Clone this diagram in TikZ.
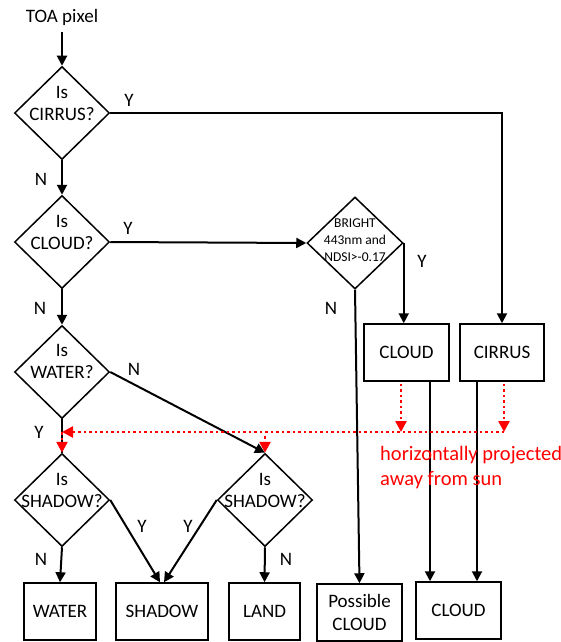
\documentclass[tikz,border=0pt]{standalone}
\usepackage{fontspec}
\setmainfont{Carlito}
\usetikzlibrary{shapes.geometric,arrows.meta}
\begin{document}
\begin{tikzpicture}[x=1pt,y=-1pt,
  dia/.style={diamond,draw,line width=1.5pt,minimum width=95pt,minimum height=93pt,inner sep=0pt,aspect=1},
  box/.style={draw,line width=1.5pt,minimum height=57pt,inner sep=0pt,align=center,font=\fontsize{19}{23}\selectfont},
  dtext/.style={align=center,font=\fontsize{19}{22}\selectfont,inner sep=0pt},
  lab/.style={font=\fontsize{19}{22}\selectfont,inner sep=0pt},
  tip/.style={-{Triangle[length=10pt,width=10pt]}},
  conn/.style={line width=2pt,tip},
  plain/.style={line width=2pt},
  proj/.style={red,line width=2.5pt,dash pattern=on 2.5pt off 3pt,-{Triangle[length=11pt,width=11pt]}},
]
\useasboundingbox (0,0) rectangle (561,642);

% title
\node[lab,anchor=base] (toa) at (62,23) {TOA pixel};

% diamonds
\node[dia] (c1) at (62,113) {};
\node[dtext] (t1) at ([yshift=10pt]c1.center) {Is\\CIRRUS?};
\node[dia] (c2) at (62,242) {};
\node[dtext] (t2) at ([yshift=10pt]c2.center) {Is\\CLOUD?};
\node[dia] (c3) at (62,372) {};
\node[dtext] (t3) at ([yshift=11pt]c3.center) {Is\\WATER?};
\node[dia] (s1) at (62,500) {};
\node[dtext] (t4) at ([yshift=10pt]s1.center) {Is\\SHADOW?};
\node[dia] (s2) at (265,500) {};
\node[dtext] (t5) at ([yshift=10pt]s2.center) {Is\\SHADOW?};
\node[dia,minimum width=96pt,minimum height=92pt] (br) at (355,243) {};
\node[dtext,font=\fontsize{13.5}{17}\selectfont] (t6) at ([yshift=3pt]br.center) {BRIGHT\\443nm and\\NDSI>-0.17};

% boxes
\node[box,minimum width=85pt] (cloudU) at (406.5,352.5) {CLOUD};
\node[box,minimum width=84pt] (cirrus) at (502,352.5) {CIRRUS};
\node[box,minimum width=72pt] (water) at (60,611.5) {WATER};
\node[box,minimum width=92pt] (shadow) at (162,611.5) {SHADOW};
\node[box,minimum width=71pt] (land) at (264.5,611.5) {LAND};
\node[box,minimum width=85pt] (poss) at (359.5,612.5) {Possible\\CLOUD};
\node[box,minimum width=85pt] (cloudF) at (458.5,610.5) {CLOUD};

% black connectors
\draw[conn] ([yshift=-6pt]toa.south) -- (c1.north);
\draw[conn] (c1.east) -| (cirrus.north);
\draw[conn] (c1.south) -- (c2.north);
\draw[conn] (c2.east) -- (br.west);
\draw[conn] (br.east) -- (br.east |- cloudU.north);
\draw[conn] (br.south) -- (poss.north);
\draw[conn] (c2.south) -- (c3.north);
\draw[conn] (c3.east) -- (s2.north);
\draw[plain] (c3.south) -- (s1.north);
\draw[conn] (s1.east) -- ([xshift=-2pt]shadow.north);
\draw[conn] (s2.west) -- ([xshift=2pt]shadow.north);
\draw[conn] (s1.south) -- (water.north);
\draw[conn] (s2.south) -- (land.north);
\draw[conn] ([xshift=23.5pt]cloudU.south) -- ([xshift=23.5pt]cloudU.south |- cloudF.north);
\draw[conn] ([xshift=-25pt]cirrus.south) -- ([xshift=-25pt]cirrus.south |- cloudF.north);

% labels
\node[lab] (y1) at (129,100) {Y};
\node[lab] (n1) at (41,179) {N};
\node[lab] (y2) at (128,228) {Y};
\node[lab] (y3) at (422,261) {Y};
\node[lab] (n2) at (331,308) {N};
\node[lab] (n3) at (40,308) {N};
\node[lab] (n4) at (134,369) {N};
\node[lab] (y4) at (39,432) {Y};
\node[lab] (y5) at (142,526) {Y};
\node[lab] (y6) at (188,526) {Y};
\node[lab] (n5) at (41,559) {N};
\node[lab] (n6) at (286,559) {N};

% red projection
\coordinate (pR) at (504,432);
\coordinate (pL) at (c3.south |- pR);
\coordinate (pM) at (s2.north |- pR);
\draw[proj] ([xshift=-5.5pt,yshift=-2pt]cloudU.south) -- ([xshift=-5.5pt]cloudU.south |- pR);
\draw[proj] ([xshift=2pt,yshift=-2pt]cirrus.south) -- ([xshift=2pt]cirrus.south |- pR);
\draw[proj] (pR) -- (pL);
\draw[proj] (pL) -- (s1.north);
\draw[proj] ([yshift=-4pt]pM) -- (s2.north);
\node[lab,red,font=\fontsize{20.5}{24}\selectfont,anchor=base west] (h1) at (380,460) {horizontally projected};
\node[lab,red,font=\fontsize{20.5}{24}\selectfont,anchor=base west] (h2) at (380,485) {away from sun};
\end{tikzpicture}
\end{document}
